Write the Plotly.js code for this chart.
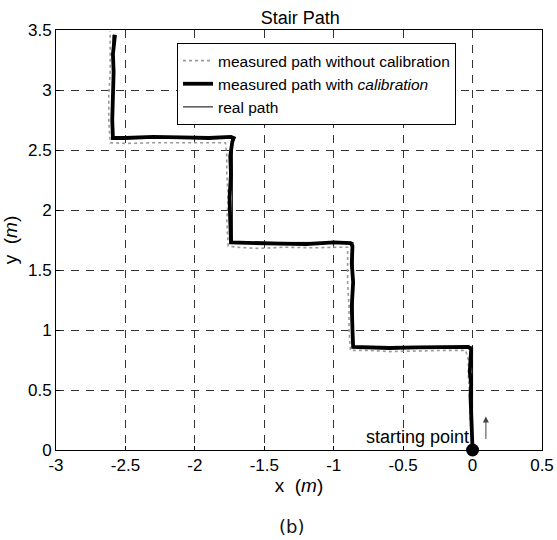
<!DOCTYPE html>
<html>
<head>
<meta charset="utf-8">
<script src="https://cdn.plot.ly/plotly-3.0.1.min.js"></script>
<style>html,body{margin:0;padding:0;background:#fff}#plot{width:557px;height:540px}</style>
</head>
<body>
<div id="plot"></div>
<script>
// Measured path without calibration (gray dotted)
const rawX = [0.00, -0.01, -0.02, -0.02, -0.03, -0.03, -0.05, -0.2, -0.4, -0.6, -0.75, -0.88, -0.89, -0.89, -0.90, -0.90, -0.90, -0.95, -1.15, -1.35, -1.55, -1.70, -1.76, -1.77, -1.76, -1.77, -1.77, -1.78, -1.9, -2.1, -2.3, -2.5, -2.61, -2.62, -2.62, -2.61, -2.61, -2.61];
const rawY = [0.00, 0.15, 0.30, 0.45, 0.60, 0.75, 0.83, 0.83, 0.825, 0.82, 0.83, 0.83, 1.00, 1.20, 1.40, 1.55, 1.69, 1.69, 1.685, 1.69, 1.68, 1.69, 1.70, 1.90, 2.10, 2.30, 2.45, 2.56, 2.56, 2.565, 2.56, 2.555, 2.56, 2.75, 2.95, 3.15, 3.35, 3.49];
// Measured path with calibration (thick black)
const calX = [0.00, -0.005, -0.01, -0.015, -0.01, -0.02, -0.015, -0.01, -0.03, -0.2, -0.4, -0.6, -0.75, -0.86, -0.865, -0.87, -0.86, -0.87, -0.865, -0.88, -1.0, -1.2, -1.4, -1.6, -1.74, -1.745, -1.75, -1.74, -1.745, -1.73, -1.72, -1.74, -1.9, -2.1, -2.3, -2.5, -2.59, -2.595, -2.59, -2.585, -2.59, -2.58, -2.575];
const calY = [0.00, 0.15, 0.30, 0.45, 0.55, 0.65, 0.75, 0.84, 0.86, 0.86, 0.855, 0.85, 0.86, 0.86, 1.00, 1.20, 1.40, 1.55, 1.70, 1.725, 1.73, 1.715, 1.72, 1.725, 1.73, 1.90, 2.10, 2.30, 2.45, 2.57, 2.60, 2.61, 2.60, 2.605, 2.61, 2.60, 2.60, 2.75, 2.95, 3.15, 3.30, 3.40, 3.46];
// Real path (thin black)
const realX = [0.00, 0.00, -0.86, -0.86, -1.73, -1.73, -2.59, -2.59];
const realY = [0.00, 0.86, 0.86, 1.73, 1.73, 2.60, 2.60, 3.46];
// Starting point
const startX = [0];
const startY = [0];

const xTicks = [-3, -2.5, -2, -1.5, -1, -0.5, 0, 0.5];
const yTicks = [0, 0.5, 1, 1.5, 2, 2.5, 3, 3.5];

const FONT = 'Liberation Sans, Arial, sans-serif';

const traces = [
  {x: rawX, y: rawY, mode: 'lines', name: 'measured path without calibration',
   line: {color: '#9a9a9a', width: 1.6, dash: 'dot'}},
  {x: calX, y: calY, mode: 'lines', name: 'measured path with <i>calibration</i>',
   line: {color: '#000', width: 3.8}},
  {x: realX, y: realY, mode: 'lines', name: 'real path',
   line: {color: '#000', width: 1}},
  {x: startX, y: startY, mode: 'markers', showlegend: false,
   marker: {color: '#000', size: 13}, cliponaxis: false}
];

const axisCommon = {
  showline: true, mirror: true, linecolor: '#000', linewidth: 1,
  ticks: 'inside', ticklen: 4, tickcolor: '#000',
  showgrid: true, gridcolor: '#333', gridwidth: 1, griddash: '8px,7px',
  zeroline: false,
  tickfont: {family: FONT, size: 17, color: '#000'}
};

const layout = {
  width: 557, height: 540,
  margin: {l: 56, r: 15, t: 30, b: 90},
  paper_bgcolor: '#fff', plot_bgcolor: '#fff',
  font: {family: FONT, color: '#000'},
  title: {text: 'Stair Path', font: {family: FONT, size: 18, color: '#000'},
          x: 0.539, xanchor: 'center', y: 0.968, yanchor: 'middle'},
  xaxis: Object.assign({}, axisCommon, {
    range: [-3, 0.5], tickvals: xTicks, ticktext: xTicks.map(String),
    title: {text: 'x  (<i>m</i>)', font: {family: FONT, size: 19, color: '#000'}, standoff: 4}
  }),
  yaxis: Object.assign({}, axisCommon, {
    range: [0, 3.5], tickvals: yTicks, ticktext: yTicks.map(String),
    title: {text: 'y  (<i>m</i>)', font: {family: FONT, size: 19, color: '#000'}, standoff: 6}
  }),
  showlegend: true,
  legend: {
    x: 0.249, xanchor: 'left', y: 0.969, yanchor: 'top',
    bgcolor: '#fff', bordercolor: '#000', borderwidth: 1,
    font: {family: FONT, size: 15.5, color: '#000'},
    tracegroupgap: 0
  },
  annotations: [
    {x: 0, y: 0, xref: 'x', yref: 'y', text: 'starting point', showarrow: false,
     xanchor: 'right', yanchor: 'bottom', xshift: -2, yshift: 1,
     font: {family: FONT, size: 18, color: '#000'}},
    {x: 0.096, y: 0.28, ax: 0.096, ay: 0.08, xref: 'x', yref: 'y', axref: 'x', ayref: 'y',
     text: '', showarrow: true, arrowhead: 2, arrowsize: 1.2, arrowwidth: 1, arrowcolor: '#444'},
    {x: 0.485, y: -0.183, xref: 'paper', yref: 'paper', text: '(b)', showarrow: false,
     xanchor: 'center', yanchor: 'middle', font: {family: 'DejaVu Sans, sans-serif', size: 18, color: '#111'}}
  ]
};

Plotly.newPlot('plot', traces, layout, {displayModeBar: false, staticPlot: true});
</script>
</body>
</html>
